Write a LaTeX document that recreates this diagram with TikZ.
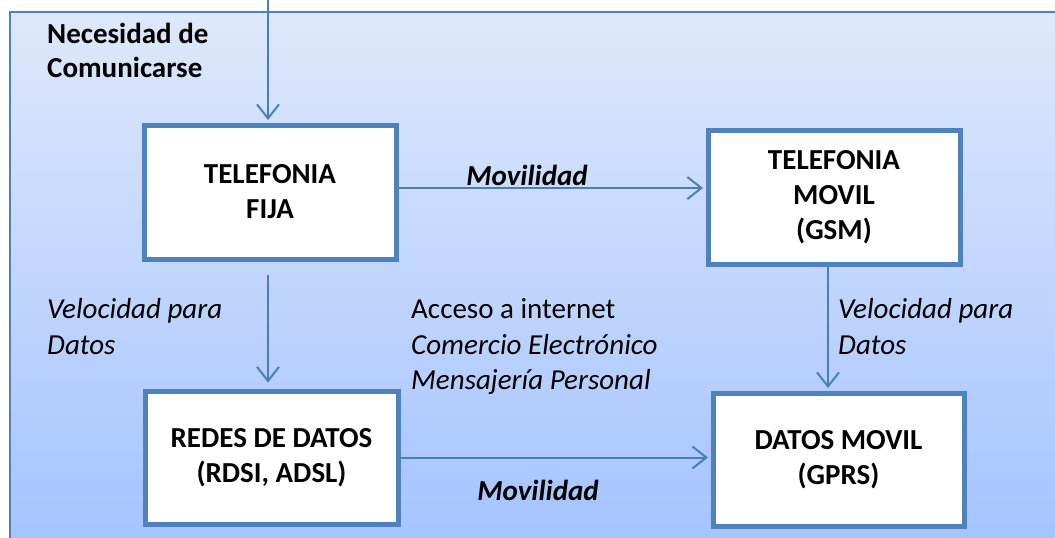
\documentclass[tikz,border=0pt]{standalone}
\usepackage{fontspec}
\setmainfont{Carlito}
\usetikzlibrary{arrows.meta,calc}
\definecolor{boxblue}{RGB}{79,129,189}
\definecolor{arrblue}{RGB}{74,126,187}
\definecolor{bgtop}{RGB}{222,232,251}
\definecolor{bgbot}{RGB}{164,195,255}
\begin{document}
\begin{tikzpicture}[x=1pt,y=1pt,
  box/.style={draw=boxblue,line width=5pt,fill=white,align=center,
    font=\fontsize{29}{35}\selectfont\bfseries,inner sep=0pt},
  arr/.style={draw=arrblue,line width=2pt,
    -{Straight Barb[length=14pt,width=22pt,line width=2pt]}},
  lab/.style={font=\fontsize{29}{36}\selectfont\itshape,align=left,inner sep=0pt,text=black},
  blab/.style={font=\fontsize{29}{34}\selectfont\bfseries\itshape,inner sep=0pt,text=black}]
\useasboundingbox (0,0) rectangle (1055,-538);
\clip (0,0) rectangle (1055,-538);
\shade[top color=bgtop,bottom color=bgbot] (10,-12) rectangle (1065,-548);
\draw[boxblue,line width=2pt] (10,-548) -- (10,-12) -- (1065,-12);

\node[box,minimum width=252pt,minimum height=134pt] (fija) at (270,-192) {TELEFONIA\\FIJA};
\node[box,minimum width=252pt,minimum height=134pt] (movil) at (834,-197) {TELEFONIA\\MOVIL\\(GSM)};
\node[box,minimum width=253pt,minimum height=133pt] (redes) at (271.5,-457.5) {REDES DE DATOS\\(RDSI, ADSL)};
\node[box,minimum width=251pt,minimum height=133pt] (datos) at (838.5,-459.5) {DATOS MOVIL\\(GPRS)};

\coordinate (top) at (268,0);
\node[font=\fontsize{29}{34}\selectfont\bfseries,align=left,inner sep=0pt,anchor=west] (nec) at (47,-50) {Necesidad de\\Comunicarse};

\draw[arr,shorten >=2.5pt] (top) -- (top |- fija.north);
\draw[arr,shorten >=2.5pt] ([yshift=4pt]fija.east) -- ([yshift=4pt]fija.east -| movil.west);
\draw[arr] ([xshift=-2pt,yshift=-13pt]fija.south) -- ([xshift=-2pt,yshift=6pt]fija.south |- redes.north);
\draw[arr,shorten >=2.5pt] ([xshift=-6pt]movil.south) -- ([xshift=-6pt]movil.south |- datos.north);
\draw[arr,shorten >=2.5pt] (redes.east) -- (redes.east -| datos.west);

\node[blab] (mov1) at (527,-175) {Movilidad};
\node[blab] (mov2) at (538,-490) {Movilidad};
\node[lab,anchor=west] (vel1) at (47,-327) {Velocidad para\\Datos};
\node[lab,anchor=west] (vel2) at (838,-327) {Velocidad para\\Datos};
\node[lab,anchor=west,font=\fontsize{29}{35.5}\selectfont] (acc) at (411,-347) {Acceso a internet\\\textit{Comercio Electrónico}\\\textit{Mensajería Personal}};
\end{tikzpicture}
\end{document}
